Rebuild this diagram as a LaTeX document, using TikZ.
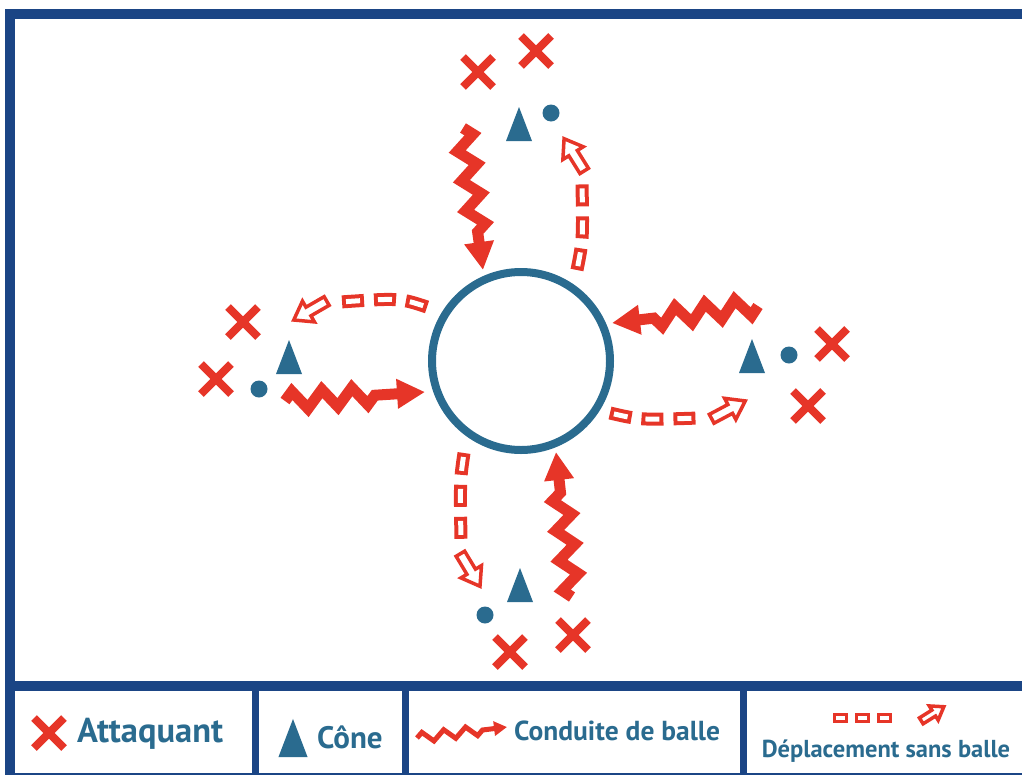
\documentclass[tikz,border=0pt]{standalone}
\usepackage{fontspec}
\setmainfont{PT Sans}
\usetikzlibrary{arrows.meta,decorations.pathmorphing,positioning}
\definecolor{rouge}{HTML}{E63528}
\definecolor{bleu}{HTML}{2A6B8F}
\definecolor{cadre}{HTML}{1B4585}

\tikzset{
  attaquant/.pic={\draw[rouge, line width=8pt] (-15,-15) -- (15,15) (-15,15) -- (15,-15);},
  plot/.pic={\fill[bleu] (-13,17) -- (0,-17) -- (13,17) -- cycle;},
  fleche/.pic={\draw[rouge, line width=3.5pt, fill=white, line join=miter]
    (-2,0) -- (-19,-12) -- (-19,-5) -- (-40,-5) -- (-40,5) -- (-19,5) -- (-19,12) -- cycle;}
}

\begin{document}
\begin{tikzpicture}[x=1pt,y=-1pt]
\tikzstyle{conduite}=[rouge, line width=11pt, line join=miter, decorate,
  decoration={zigzag, amplitude=9pt, segment length=30pt, post length=38pt},
  -{Triangle[length=28pt, width=28pt]}]
\tikzstyle{petiteconduite}=[rouge, line width=5pt, line join=miter, decorate,
  decoration={zigzag, amplitude=5pt, segment length=22pt, post length=22pt},
  -{Triangle[length=13pt, width=14pt]}]
\tikzstyle{sansballe}=[white, line width=5pt, dash pattern=on 0pt off 4pt on 14pt off 14pt,
  preaction={draw, rouge, line width=13pt, dash pattern=on 22pt off 10pt}]
\tikzstyle{petitsansballe}=[white, line width=3.5pt, dash pattern=on 0pt off 3pt on 9pt off 10pt,
  preaction={draw, rouge, line width=9.5pt, dash pattern=on 15pt off 7pt}]
\tikzstyle{texte}=[text=bleu, inner sep=0pt, anchor=west]
\clip (0,0) rectangle (1022,774);
\useasboundingbox (0,0) rectangle (1022,774);

% terrain
\draw[cadre, line width=10pt] (10,14) rectangle (1032,778);
\draw[cadre, line width=10pt] (10,686) -- (1032,686);
\foreach \x in {255,405,743} \draw[cadre, line width=7pt] (\x,686) -- (\x,778);

\node[circle, draw=bleu, line width=8pt, minimum size=178pt, inner sep=0pt] (cercle) at (521,361) {};

% haut
\pic at (478,72) {attaquant};
\pic at (536,51) {attaquant};
\pic at (519,124) {plot};
\fill[bleu] (551,113) circle (8.5pt);
\coordinate (h1) at (463,128);
\coordinate (h2) at (483,270);
\draw[conduite] (h1) -- (h2);
\coordinate (h3) at (577,270);
\draw[sansballe] (h3) .. controls (583,240) .. (582,183);
\pic[rotate=122] at (563,137) {fleche};

% gauche
\pic at (243,322) {attaquant};
\pic at (216,379) {attaquant};
\pic at (289,357) {plot};
\fill[bleu] (259,389) circle (8.5pt);
\coordinate (g1) at (285,401);
\coordinate (g2) at (425,392);
\draw[conduite] (g1) -- (g2);
\coordinate (g3) at (427,307);
\draw[sansballe] (g3) .. controls (400,298) .. (340,302);
\pic[rotate=210] at (292,321) {fleche};

% droite
\pic at (832,344) {attaquant};
\pic at (808,406) {attaquant};
\pic at (752,356) {plot};
\fill[bleu] (789,355) circle (8.5pt);
\coordinate (d1) at (758,306);
\coordinate (d2) at (612,323);
\draw[conduite] (d1) -- (d2);
\coordinate (d3) at (610,413);
\draw[sansballe] (d3) .. controls (640,420) .. (699,418);
\pic[rotate=28] at (747,400) {fleche};

% bas
\pic at (510,652) {attaquant};
\pic at (573,635) {attaquant};
\pic at (520,585) {plot};
\fill[bleu] (485,615) circle (8.5pt);
\coordinate (b1) at (572,597);
\coordinate (b2) at (556,452);
\draw[conduite] (b1) -- (b2);
\coordinate (b3) at (464,453);
\draw[sansballe] (b3) .. controls (460,480) .. (461,541);
\pic[rotate=-59] at (481,588) {fleche};

% legende
\pic at (49,733) {attaquant};
\node[texte, font=\bfseries\fontsize{34.5}{34.5}\selectfont] (lattaquant) at (77,734) {Attaquant};
\pic[scale=1.12] at (293,738) {plot};
\node[texte, font=\bfseries\fontsize{31}{31}\selectfont] (lplot) at (317,737) {Cône};
\coordinate (l1) at (417,738);
\coordinate (l2) at (507,727);
\draw[petiteconduite] (l1) -- (l2);
\node[texte, font=\bfseries\fontsize{27.5}{27.5}\selectfont] (lconduite) at (514,731) {Conduite de balle};
\coordinate (l3) at (833,718);
\draw[petitsansballe] (l3) -- (892,718);
\pic[rotate=32, scale=.7] at (945,706) {fleche};
\node[text=bleu, font=\bfseries\fontsize{24.5}{24.5}\selectfont, inner sep=0pt] (lsansballe) at (886,751) {Déplacement sans balle};
\end{tikzpicture}
\end{document}
